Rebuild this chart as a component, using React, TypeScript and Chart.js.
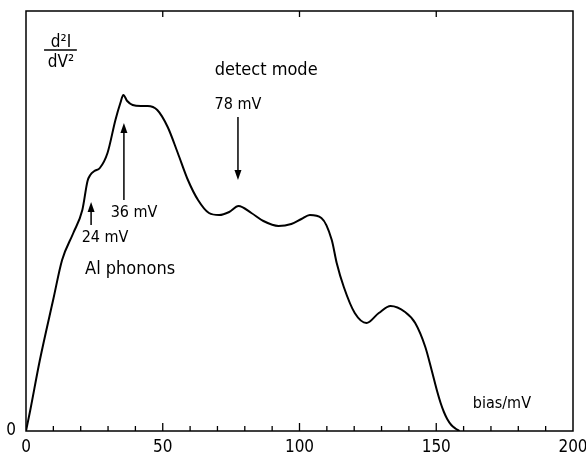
import React, { useEffect, useRef } from "react";
import { Chart, registerables } from "chart.js";

Chart.register(...registerables);

// bias in mV
const biasMV = [
  0, 1.5, 5, 10, 13.2, 17.3, 20.6, 22.5, 23.5, 25, 27, 29.8, 32.7, 34.5, 35.6, 37, 39, 42, 44.5, 48,
  51.8, 55.5, 59.2, 62.9, 66.9, 70.6, 74.3, 77.7, 82.4, 86.8, 92.3, 97, 100.7, 103.8, 108, 111.8,
  113.6, 116.2, 120.2, 124.5, 129, 133.3, 138.6, 142.3, 146, 148.3, 150.3, 151.6, 152.8, 154,
  155.5, 157, 158.5,
];
// d2I/dV2 (arbitrary units)
const d2IdV2 = [
  0, 20, 70, 132, 171, 198, 221, 250, 256, 260, 263, 278, 311, 328, 336, 330, 326, 325, 325, 321,
  304, 278, 251, 231, 218, 216, 219, 225, 218, 210, 205, 207, 212, 216, 213, 191,
  168, 144, 118, 108, 118, 125, 119, 108, 84, 61, 40, 28, 19, 12,
  6, 2.5, 0,
];

const xTickLabels = [0, 50, 100, 150, 200];
const minorTicks = [10, 20, 30, 40, 50, 60, 70, 80, 90, 100, 110, 120, 130, 140, 150, 160, 170, 180, 190];
const topTicks = [50, 100, 150];

// annotation arrows: [x (mV), yFrom, yTip]
const arrowX = [23.8, 35.8, 77.5];
const arrowFrom = [206, 231, 314];
const arrowTip = [229, 308, 251];

// annotation texts
const noteTexts = ["detect mode", "78 mV", "36 mV", "24 mV", "Al phonons", "bias/mV"];
const noteX = [69, 77.5, 39.5, 28.9, 21.6, 174];
const noteY = [361, 326, 218, 193, 162, 27];
const noteAlign = ["left", "center", "center", "center", "left", "center"];

const FONT = "'DejaVu Sans Condensed', 'Liberation Sans Narrow', 'DejaVu Sans', sans-serif";

export default function App() {
  const ref = useRef<HTMLCanvasElement>(null);

  useEffect(() => {
    document.body.style.margin = "0";
    const canvas = ref.current;
    if (!canvas) return;

    const framePlugin = {
      id: "frame",
      afterDraw(chart: any) {
        const { ctx, chartArea: a, scales } = chart;
        const xs = scales.x;
        ctx.save();
        ctx.strokeStyle = "#000";
        ctx.lineWidth = 1.5;
        ctx.strokeRect(a.left, a.top, a.right - a.left, a.bottom - a.top);
        ctx.lineWidth = 1.3;
        ctx.beginPath();
        minorTicks.forEach((v) => {
          const px = xs.getPixelForValue(v);
          const len = v % 50 === 0 ? 8 : 5;
          ctx.moveTo(px, a.bottom);
          ctx.lineTo(px, a.bottom - len);
        });
        topTicks.forEach((v) => {
          const px = xs.getPixelForValue(v);
          ctx.moveTo(px, a.top);
          ctx.lineTo(px, a.top + 6);
        });
        ctx.stroke();
        ctx.restore();
      },
    };

    const notesPlugin = {
      id: "notes",
      afterDatasetsDraw(chart: any) {
        const { ctx, scales } = chart;
        const xs = scales.x;
        const ys = scales.y;
        ctx.save();
        ctx.fillStyle = "#000";
        ctx.strokeStyle = "#000";
        // arrows
        arrowX.forEach((xv, i) => {
          const px = xs.getPixelForValue(xv);
          const p0 = ys.getPixelForValue(arrowFrom[i]);
          const p1 = ys.getPixelForValue(arrowTip[i]);
          const dir = p1 < p0 ? -1 : 1;
          ctx.lineWidth = 1.5;
          ctx.beginPath();
          ctx.moveTo(px, p0);
          ctx.lineTo(px, p1 - dir * 8);
          ctx.stroke();
          ctx.beginPath();
          ctx.moveTo(px, p1);
          ctx.lineTo(px - 3.5, p1 - dir * 10);
          ctx.lineTo(px + 3.5, p1 - dir * 10);
          ctx.closePath();
          ctx.fill();
        });
        // texts
        ctx.textBaseline = "middle";
        noteTexts.forEach((t, i) => {
          ctx.font = `${i === 0 || i === 4 ? 18 : 16}px ${FONT}`;
          ctx.textAlign = noteAlign[i] as CanvasTextAlign;
          ctx.fillText(t, xs.getPixelForValue(noteX[i]), ys.getPixelForValue(noteY[i]));
        });
        // fraction label d2I/dV2
        const cx = xs.getPixelForValue(12.8);
        ctx.font = `17px ${FONT}`;
        ctx.textAlign = "center";
        ctx.textBaseline = "alphabetic";
        ctx.fillText("d\u00b2I", cx, ys.getPixelForValue(384));
        ctx.fillText("dV\u00b2", cx, ys.getPixelForValue(364));
        ctx.lineWidth = 1.5;
        ctx.beginPath();
        const ly = ys.getPixelForValue(381);
        ctx.moveTo(xs.getPixelForValue(6.6), ly);
        ctx.lineTo(xs.getPixelForValue(18.6), ly);
        ctx.stroke();
        ctx.restore();
      },
    };

    const chart = new Chart(canvas, {
      type: "line",
      data: {
        datasets: [
          {
            data: biasMV.map((x, i) => ({ x, y: d2IdV2[i] })),
            borderColor: "#000",
            borderWidth: 2,
            pointRadius: 0,
            fill: false,
            cubicInterpolationMode: "monotone",
          },
        ],
      },
      options: {
        animation: false,
        responsive: true,
        maintainAspectRatio: false,
        layout: { padding: { top: 11, right: 13, left: 0, bottom: 0 } },
        plugins: { legend: { display: false }, tooltip: { enabled: false } },
        scales: {
          x: {
            type: "linear",
            min: 0,
            max: 200,
            grid: { display: false, drawTicks: false },
            border: { display: false },
            afterBuildTicks: (s: any) => {
              s.ticks = xTickLabels.map((v) => ({ value: v }));
            },
            afterFit: (s: any) => {
              s.height = 25;
              s.paddingLeft = 0;
              s.paddingRight = 0;
            },
            ticks: {
              autoSkip: false,
              maxRotation: 0,
              padding: 6,
              color: "#000",
              font: { family: FONT, size: 17 },
            },
          },
          y: {
            type: "linear",
            min: 0,
            max: 420,
            grid: { display: false, drawTicks: false },
            border: { display: false },
            afterBuildTicks: (s: any) => {
              s.ticks = [{ value: 0 }];
            },
            afterFit: (s: any) => {
              s.width = 26;
              s.paddingTop = 0;
              s.paddingBottom = 0;
            },
            ticks: {
              padding: 10,
              color: "#000",
              font: { family: FONT, size: 17 },
            },
          },
        },
      },
      plugins: [framePlugin, notesPlugin],
    });
    return () => chart.destroy();
  }, []);

  return (
    <div style={{ width: 586, height: 456, position: "relative", background: "#fff" }}>
      <canvas ref={ref} />
    </div>
  );
}
